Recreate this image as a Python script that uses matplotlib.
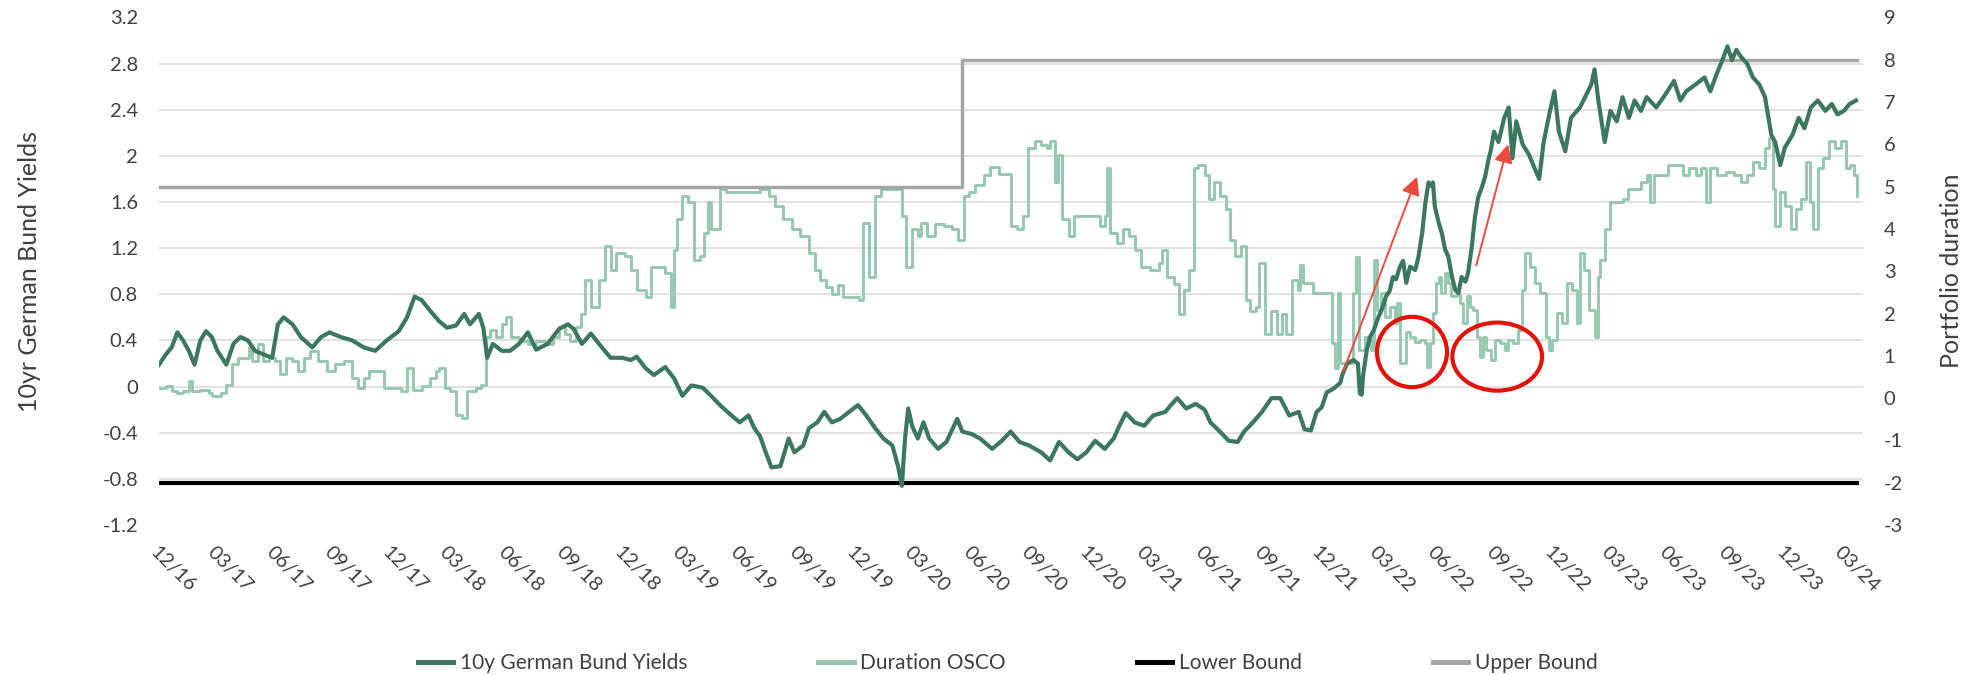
import matplotlib
matplotlib.use("Agg")
import matplotlib.pyplot as plt
from matplotlib.patches import Ellipse
from matplotlib.lines import Line2D
from matplotlib.ticker import FixedLocator
import matplotlib.dates as mdates
import numpy as np
import pandas as pd

# ---------------- data ----------------
START = "2016-12-30"          # first observation / left edge of the date axis
AXIS_END_DAY = 2679           # right edge of the date axis (days after START)

# 10y German Bund yield (left axis): (days after START, yield %)
yield_points = [
    (0, 0.19), (11, 0.28), (20, 0.34), (29, 0.47), (38, 0.40), (47, 0.31), (56, 0.19), (65, 0.40), (74, 0.48), (83, 0.43),
    (92, 0.31), (106, 0.19), (117, 0.37), (128, 0.43), (140, 0.40), (151, 0.31), (164, 0.28), (178, 0.25), (187, 0.54), (196, 0.60),
    (210, 0.54), (223, 0.43), (241, 0.34), (255, 0.43), (268, 0.47), (286, 0.43), (304, 0.40), (322, 0.34), (340, 0.31), (358, 0.40),
    (377, 0.48), (390, 0.60), (402, 0.78), (413, 0.75), (426, 0.66), (440, 0.57), (453, 0.51), (467, 0.53), (480, 0.63), (489, 0.54),
    (503, 0.63), (510, 0.51), (516, 0.25), (525, 0.37), (539, 0.31), (552, 0.31), (566, 0.37), (580, 0.47), (593, 0.32), (611, 0.37),
    (629, 0.50), (643, 0.54), (652, 0.50), (665, 0.37), (679, 0.46), (692, 0.37), (710, 0.25), (728, 0.25), (742, 0.23), (751, 0.26),
    (765, 0.16), (778, 0.10), (796, 0.17), (810, 0.07), (823, -0.08), (837, 0.01), (855, -0.01), (868, -0.08), (882, -0.16), (900, -0.25),
    (913, -0.31), (927, -0.25), (936, -0.36), (945, -0.43), (954, -0.57), (963, -0.70), (977, -0.69), (990, -0.45), (999, -0.57), (1013, -0.51),
    (1022, -0.36), (1035, -0.31), (1046, -0.22), (1058, -0.31), (1071, -0.28), (1085, -0.22), (1099, -0.16), (1112, -0.25), (1126, -0.36), (1139, -0.45),
    (1153, -0.51), (1162, -0.69), (1168, -0.86), (1173, -0.45), (1178, -0.19), (1184, -0.34), (1193, -0.45), (1202, -0.31), (1211, -0.45), (1225, -0.54),
    (1238, -0.48), (1255, -0.28), (1263, -0.39), (1277, -0.41), (1291, -0.45), (1310, -0.54), (1325, -0.47), (1339, -0.39), (1353, -0.48), (1368, -0.51),
    (1387, -0.57), (1401, -0.64), (1415, -0.48), (1430, -0.57), (1444, -0.63), (1458, -0.57), (1472, -0.47), (1487, -0.54), (1501, -0.45), (1510, -0.34),
    (1520, -0.23), (1534, -0.31), (1549, -0.34), (1563, -0.25), (1582, -0.22), (1591, -0.16), (1601, -0.10), (1615, -0.19), (1630, -0.15), (1644, -0.20),
    (1653, -0.31), (1668, -0.39), (1682, -0.47), (1696, -0.48), (1706, -0.39), (1720, -0.31), (1734, -0.22), (1749, -0.10), (1763, -0.10), (1777, -0.25),
    (1792, -0.22), (1801, -0.37), (1811, -0.38), (1820, -0.22), (1828, -0.18), (1836, -0.05), (1846, -0.02), (1857, 0.03), (1861, 0.11), (1868, 0.20),
    (1878, 0.23), (1885, 0.20), (1888, -0.06), (1891, -0.07), (1893, 0.09), (1899, 0.32), (1904, 0.43), (1910, 0.49), (1917, 0.60), (1922, 0.66),
    (1929, 0.78), (1935, 0.83), (1940, 0.95), (1945, 0.93), (1951, 1.04), (1956, 1.09), (1961, 0.90), (1967, 1.04), (1975, 1.01), (1980, 1.12),
    (1986, 1.33), (1991, 1.59), (1996, 1.77), (2000, 1.74), (2003, 1.77), (2006, 1.56), (2012, 1.42), (2017, 1.33), (2022, 1.19), (2027, 1.13),
    (2033, 0.95), (2038, 0.84), (2043, 0.81), (2048, 0.95), (2054, 0.91), (2058, 0.98), (2064, 1.21), (2069, 1.47), (2074, 1.64), (2080, 1.73),
    (2085, 1.82), (2090, 1.96), (2094, 2.05), (2099, 2.21), (2106, 2.12), (2115, 2.33), (2122, 2.42), (2128, 1.98), (2134, 2.30), (2144, 2.10),
    (2154, 2.01), (2163, 1.89), (2170, 1.80), (2177, 2.12), (2187, 2.39), (2194, 2.56), (2201, 2.21), (2211, 2.04), (2220, 2.33), (2234, 2.42),
    (2244, 2.53), (2252, 2.62), (2257, 2.75), (2263, 2.48), (2273, 2.12), (2282, 2.39), (2292, 2.30), (2301, 2.51), (2311, 2.33), (2320, 2.48),
    (2330, 2.39), (2339, 2.51), (2354, 2.42), (2368, 2.53), (2382, 2.65), (2392, 2.48), (2401, 2.56), (2416, 2.62), (2430, 2.68), (2439, 2.56),
    (2449, 2.71), (2458, 2.83), (2466, 2.95), (2473, 2.83), (2480, 2.92), (2487, 2.86), (2497, 2.80), (2506, 2.68), (2516, 2.62), (2525, 2.51),
    (2535, 2.18), (2541, 2.12), (2549, 1.92), (2556, 2.07), (2568, 2.18), (2578, 2.33), (2587, 2.24), (2597, 2.42), (2608, 2.48), (2620, 2.39),
    (2630, 2.45), (2639, 2.36), (2649, 2.39), (2658, 2.45), (2668, 2.48),
]

# Duration OSCO (right axis, step series): (days after START, duration)
duration_points = [
    (0, 0.24), (11, 0.28), (20, 0.16), (29, 0.12), (38, 0.16), (47, 0.40), (52, 0.16), (65, 0.20), (79, 0.12), (83, 0.04),
    (97, 0.12), (106, 0.32), (115, 0.80), (124, 0.96), (142, 1.20), (146, 0.88), (155, 1.28), (164, 0.88), (173, 0.96), (182, 0.88),
    (191, 0.56), (200, 0.96), (209, 0.88), (219, 0.64), (228, 0.96), (237, 1.12), (250, 0.88), (264, 0.64), (277, 0.80), (291, 0.88),
    (304, 0.48), (313, 0.24), (322, 0.48), (331, 0.64), (354, 0.24), (381, 0.16), (390, 0.72), (399, 0.20), (413, 0.28), (426, 0.48),
    (435, 0.64), (441, 0.72), (449, 0.24), (458, 0.16), (467, -0.40), (476, -0.48), (485, 0.16), (498, 0.24), (507, 0.32), (514, 1.44),
    (521, 1.60), (530, 1.44), (539, 1.76), (546, 1.92), (553, 1.44), (566, 1.36), (580, 1.28), (593, 1.36), (607, 1.28), (620, 1.44),
    (629, 1.68), (638, 1.52), (647, 1.36), (656, 1.68), (663, 2.00), (670, 2.79), (679, 2.16), (692, 2.79), (701, 3.59), (710, 3.03),
    (719, 3.43), (733, 3.35), (742, 3.03), (751, 2.55), (765, 2.39), (774, 3.11), (796, 2.95), (805, 2.16), (810, 3.51), (814, 4.23),
    (823, 4.79), (832, 4.63), (841, 3.27), (850, 3.35), (857, 3.91), (864, 4.63), (868, 3.99), (882, 4.95), (891, 4.87), (945, 4.95),
    (959, 4.79), (968, 4.55), (981, 4.23), (995, 3.99), (1008, 3.83), (1022, 3.43), (1031, 3.03), (1040, 2.79), (1049, 2.63), (1058, 2.47),
    (1067, 2.67), (1076, 2.39), (1100, 2.31), (1107, 4.15), (1116, 2.87), (1126, 4.79), (1135, 4.95), (1162, 4.95), (1169, 4.31), (1175, 3.11),
    (1184, 3.99), (1193, 3.83), (1198, 4.15), (1207, 3.83), (1220, 4.11), (1234, 4.07), (1247, 3.99), (1256, 3.75), (1265, 4.79), (1274, 4.87),
    (1283, 5.03), (1297, 5.27), (1306, 5.47), (1320, 5.31), (1334, 5.31), (1339, 4.07), (1349, 3.99), (1358, 4.31), (1366, 5.91), (1377, 6.07),
    (1387, 5.99), (1396, 5.91), (1401, 6.07), (1408, 5.11), (1413, 5.75), (1420, 4.23), (1430, 3.83), (1439, 4.31), (1480, 4.07), (1487, 4.31),
    (1491, 5.43), (1496, 3.91), (1506, 3.67), (1515, 3.99), (1525, 3.83), (1534, 3.51), (1544, 3.11), (1558, 3.03), (1572, 3.19), (1577, 3.51),
    (1585, 2.87), (1596, 2.71), (1604, 2.00), (1611, 2.55), (1620, 3.03), (1627, 5.43), (1634, 5.51), (1644, 5.27), (1651, 4.71), (1658, 5.11),
    (1668, 4.79), (1677, 4.47), (1684, 3.75), (1691, 3.35), (1701, 3.59), (1709, 2.31), (1715, 2.07), (1725, 2.15), (1730, 3.19), (1739, 1.52),
    (1749, 2.07), (1758, 1.52), (1766, 2.00), (1772, 1.52), (1782, 2.79), (1791, 2.55), (1794, 3.15), (1799, 2.72), (1815, 2.49), (1844, 1.30),
    (1849, 0.71), (1853, 2.49), (1857, 0.83), (1878, 2.49), (1882, 3.34), (1887, 1.14), (1896, 1.45), (1905, 1.14), (1910, 3.27), (1915, 2.09),
    (1922, 2.49), (1927, 1.92), (1935, 2.16), (1943, 1.77), (1947, 2.25), (1951, 0.83), (1961, 1.57), (1967, 1.45), (1975, 1.33), (1983, 1.37),
    (1991, 1.30), (1993, 0.74), (1998, 1.30), (2003, 2.01), (2008, 2.72), (2013, 2.87), (2016, 2.49), (2022, 2.95), (2027, 2.72), (2032, 2.41),
    (2040, 2.45), (2045, 2.25), (2050, 1.77), (2056, 2.41), (2061, 2.16), (2066, 2.09), (2072, 1.45), (2077, 0.98), (2082, 1.45), (2087, 1.14),
    (2095, 0.90), (2100, 1.37), (2108, 1.30), (2116, 1.14), (2121, 1.37), (2129, 1.30), (2137, 1.61), (2143, 2.56), (2148, 3.42), (2156, 3.11),
    (2164, 2.72), (2172, 2.49), (2180, 1.45), (2185, 1.14), (2190, 1.37), (2198, 2.01), (2206, 1.77), (2214, 2.72), (2222, 2.56), (2230, 1.77),
    (2234, 3.42), (2241, 3.03), (2249, 2.09), (2257, 1.45), (2262, 2.87), (2266, 3.27), (2273, 3.99), (2282, 4.63), (2301, 4.71), (2309, 4.95),
    (2330, 5.11), (2339, 5.27), (2344, 4.63), (2351, 5.27), (2373, 5.51), (2396, 5.27), (2406, 5.43), (2416, 5.27), (2425, 5.43), (2433, 4.63),
    (2439, 5.43), (2449, 5.27), (2463, 5.35), (2477, 5.27), (2487, 5.11), (2497, 5.27), (2506, 5.59), (2516, 5.43), (2525, 5.91), (2532, 6.15),
    (2537, 4.95), (2541, 4.07), (2549, 4.87), (2556, 4.55), (2566, 3.99), (2573, 4.47), (2582, 4.71), (2589, 5.59), (2595, 4.63), (2601, 3.99),
    (2608, 5.43), (2616, 5.67), (2625, 6.07), (2635, 5.91), (2644, 6.07), (2652, 5.43), (2658, 5.51), (2665, 5.27), (2669, 4.79),
]

# Duration bounds (right axis)
upper_days = [0, 1263, 2670]
upper_values = [5, 8, 8]
lower_days = [0, 2670]
lower_values = [-2, -2]

# Axis ticks / labels
x_tick_labels = ["12/16", "03/17", "06/17", "09/17", "12/17", "03/18", "06/18", "09/18", "12/18", "03/19",
                 "06/19", "09/19", "12/19", "03/20", "06/20", "09/20", "12/20", "03/21", "06/21", "09/21",
                 "12/21", "03/22", "06/22", "09/22", "12/22", "03/23", "06/23", "09/23", "12/23", "03/24"]
left_ticks = [-1.2, -0.8, -0.4, 0, 0.4, 0.8, 1.2, 1.6, 2.0, 2.4, 2.8, 3.2]
left_tick_labels = ["-1.2", "-0.8", "-0.4", "0", "0.4", "0.8", "1.2", "1.6", "2", "2.4", "2.8", "3.2"]
right_ticks = [-3, -2, -1, 0, 1, 2, 3, 4, 5, 6, 7, 8, 9]

series_labels = ["10y German Bund Yields", "Duration OSCO", "Lower Bound", "Upper Bound"]

# Red annotations (days after START, left-axis value)
arrow_tails = [(1862, 0.13), (2071, 1.05)]
arrow_heads = [(1978, 1.82), (2121, 2.10)]
circle_centers = [(1970, 0.30), (2104, 0.26)]
circle_widths_days = [110, 141]
circle_heights = [0.61, 0.59]

# ---------------- helpers ----------------
start_ts = pd.Timestamp(START)


def to_dates(days):
    return start_ts + pd.to_timedelta(np.asarray(days, dtype=float), unit="D")


y_days, y_vals = zip(*yield_points)
d_days, d_vals = zip(*duration_points)

# ---------------- style ----------------
plt.rcParams["font.family"] = ["Lato", "DejaVu Sans"]
TEXT = "#404040"
C_YIELD = "#3C7860"
C_DUR = "#96C8B1"
C_LOW = "#000000"
C_UP = "#A6A6A6"
C_GRID = "#D9D9D9"
C_RED = "#E3120B"
C_ARROW = "#EA4B3C"

fig = plt.figure(figsize=(19.72, 6.75), dpi=100)
ax = fig.add_axes([0.0806, 0.2222, 0.8641, 0.7519])
ax2 = ax.twinx()

# left axis on top (yields), right axis below (duration + bounds + grid)
ax.set_zorder(ax2.get_zorder() + 1)
ax.patch.set_visible(False)

L_MIN, L_MAX = -1.2, 3.2
R_MIN, R_MAX = -3, 9
ax.set_ylim(L_MIN, L_MAX)
ax2.set_ylim(R_MIN, R_MAX)

# series on right axis
ax2.plot(to_dates(d_days), d_vals, color=C_DUR, lw=2.1, drawstyle="steps-post", zorder=2)
ax2.plot(to_dates(lower_days), lower_values, color=C_LOW, lw=3.0, zorder=3)
ax2.plot(to_dates(upper_days), upper_values, color=C_UP, lw=2.5, drawstyle="steps-post", zorder=3)

# yield on left axis
ax.plot(to_dates(y_days), y_vals, color=C_YIELD, lw=3.0, zorder=3, solid_joinstyle="round")

# gridlines follow the left-axis ticks, drawn on the bottom axes
grid_pos = [R_MIN + (v - L_MIN) * (R_MAX - R_MIN) / (L_MAX - L_MIN) for v in left_ticks]
ax2.yaxis.set_minor_locator(FixedLocator(grid_pos))
ax2.grid(which="minor", axis="y", color=C_GRID, lw=1.1, zorder=0)
ax2.grid(which="major", visible=False)

# x axis
ax.set_xlim(to_dates([0])[0], to_dates([AXIS_END_DAY])[0])
tick_dates = pd.date_range(START, periods=len(x_tick_labels), freq=pd.DateOffset(months=3))
ax.set_xticks(tick_dates)
ax.set_xticklabels(x_tick_labels, rotation=-45, ha="left", va="top", rotation_mode="anchor",
                   fontsize=14.5, color=TEXT)
ax.tick_params(axis="x", length=0, pad=13)

# y axes
ax.set_yticks(left_ticks)
ax.set_yticklabels(left_tick_labels, fontsize=14.5, color=TEXT)
ax.tick_params(axis="y", length=0, pad=15)
ax2.set_yticks(right_ticks)
ax2.set_yticklabels([str(t) for t in right_ticks], fontsize=14.5, color=TEXT)
ax2.tick_params(axis="y", which="both", length=0, pad=15)

ax.set_ylabel("10yr German Bund Yields", fontsize=18, color=TEXT)
ax.yaxis.set_label_coords(-0.069, 0.5)
ax2.set_ylabel("Portfolio duration", fontsize=18, color=TEXT, rotation=90)
ax2.yaxis.set_label_coords(1.045, 0.5)

for a in (ax, ax2):
    for s in a.spines.values():
        s.set_visible(False)

# red annotations
for (td, tv), (hd, hv) in zip(arrow_tails, arrow_heads):
    ax.annotate("", xy=(to_dates([hd])[0], hv), xytext=(to_dates([td])[0], tv),
                arrowprops=dict(arrowstyle="-|>,head_length=0.55,head_width=0.28", color=C_ARROW,
                                lw=1.4, shrinkA=0, shrinkB=0, mutation_scale=20),
                zorder=6)
for (cd, cv), w, h in zip(circle_centers, circle_widths_days, circle_heights):
    e = Ellipse((mdates.date2num(to_dates([cd])[0]), cv), width=w, height=h,
                fill=False, edgecolor=C_RED, lw=3.0, zorder=7)
    ax.add_patch(e)

# legend
handles = [Line2D([], [], color=C_YIELD, lw=3.6),
           Line2D([], [], color=C_DUR, lw=3.6),
           Line2D([], [], color=C_LOW, lw=3.6),
           Line2D([], [], color=C_UP, lw=3.6)]
leg = fig.legend(handles, series_labels, loc="center", bbox_to_anchor=(0.5110, 0.0178), ncol=4,
                 frameon=False, fontsize=15, handlelength=1.7, handletextpad=0.3, columnspacing=6.3)
for t in leg.get_texts():
    t.set_color(TEXT)

fig.savefig("out.png", dpi=100)
